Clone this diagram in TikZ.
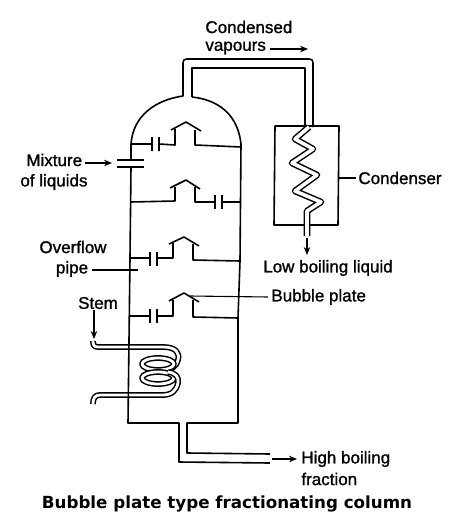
\documentclass[tikz,border=0pt]{standalone}
\usepackage{fontspec}
\setmainfont{Liberation Sans}[RawFeature={embolden=1.2}]
\newfontfamily\capfont{DejaVu Sans}
\usetikzlibrary{arrows,arrows.meta,positioning}

\begin{document}
\begin{tikzpicture}[x=1pt, y=-1pt, thick]
    % Stili
    \tikzstyle{wall}=[line width=1.6pt, line join=round]
    \tikzstyle{pipe}=[line width=1.5pt, double distance=2.8pt, line join=round]
    \tikzstyle{arrow}=[-{Stealth[length=8pt,width=6.5pt]}, line width=1.1pt]
    \tikzstyle{leader}=[line width=1.1pt]
    \tikzstyle{label}=[font=\fontsize{17}{19}\selectfont, inner sep=0pt, align=center]
    \useasboundingbox (0,0) rectangle (456,532);

    % Serpentina
    \draw [pipe] (93,341) .. controls (93,345) and (94,347) .. (98,347) -- (163,347) .. controls (176,347) and (180,353) .. (178,360) .. controls (176,367) and (172,369) .. (165,370);
    \draw [pipe] (158,364) ellipse (16 and 6);
    \draw [pipe] (158,378) ellipse (16 and 6);
    \draw [pipe] (168,372) .. controls (176,373) and (179,377) .. (178,383) .. controls (176,391) and (172,395) .. (162,395) -- (100,395) .. controls (95,395) and (93,398) .. (93,404);

    % Colonna
    \draw [wall] (131,160) -- (131,144) .. controls (133,116) and (155,100) .. (183,96) -- (183,63) .. controls (183,60) and (184,59) .. (187,59) -- (309,59) .. controls (312,59) and (313,60) .. (313,63) -- (313,127);
    \draw [wall] (192,97) -- (192,68) -- (305,68) -- (305,127);
    \draw [wall] (192,97) .. controls (220,100) and (238,116) .. (241,144) -- (240,261) -- (238,318) -- (238,423) -- (187,423) -- (187,453) -- (270,454);
    \draw [wall] (131,167) -- (130,258) -- (128,423) -- (179,423) -- (179,462) -- (270,463);
    \draw [wall] (117,160) -- (144,160);
    \draw [wall] (117,167) -- (144,167);

    % Piatti
    \draw [wall] (131,144) -- (152,144) (152,137) -- (152,151) (159,137) -- (159,151) (159,144) -- (175,145) -- (175,129);
    \draw [wall] (171,130) -- (186,122) -- (201,131) (195,130) -- (195,145) -- (241,147);
    \draw [wall] (131,202) -- (175,201) -- (175,187) (170,188) -- (186,180) -- (200,189) (195,187) -- (195,202) -- (215,202);
    \draw [wall] (215,195) -- (215,209) (222,195) -- (222,209) (222,202) -- (240,202);
    \draw [wall] (130,258) -- (150,258) (150,252) -- (150,266) (157,252) -- (157,266) (157,258) -- (173,258) -- (173,243);
    \draw [wall] (169,244) -- (184,237) -- (199,246) (193,244) -- (193,260) -- (240,261);
    \draw [wall] (129,316) -- (150,316) (150,309) -- (150,323) (157,309) -- (157,323) (157,316) -- (173,316) -- (173,300);
    \draw [wall] (169,301) -- (184,293) -- (199,302) (193,300) -- (193,317) -- (238,318);

    % Condensatore
    \draw [wall] (275,126) -- (339,126) -- (338,225) -- (274,225) -- cycle;
    \draw [pipe, double distance=3.6pt] (309,127) -- (295,139) -- (313,149) -- (292,163) -- (317,175) -- (295,191) -- (321,202) -- (307,211) -- (307,236);

    % Nodi
    \node (condensed) [label, anchor=west] at (205,27) {Condensed};
    \node (vapours) [label, anchor=west] at (205,48) {vapours};
    \coordinate (vapoursend) at (308,49);
    \node (mixture) [label, anchor=west] at (26,160) {Mixture};
    \coordinate (mixtureend) at (112,163);
    \node (liquids) [label, anchor=west] at (20,182) {of liquids};
    \node (overflow) [label] at (73,247) {Overflow};
    \node (overpipe) [label] at (72,269) {pipe};
    \coordinate (overflowend) at (138,270);
    \node (stem) [label] at (98,303) {Stem};
    \coordinate (stemend) at (94,339);
    \node (condenser) [label, anchor=west] at (358,178) {Condenser};
    \coordinate (condenserstart) at (339,178);
    \node (lowliquid) [label] at (328,268) {Low boiling liquid};
    \coordinate (outletstart) at (307,238);
    \coordinate (outletend) at (307,255);
    \node (bubble) [label, anchor=west] at (271,297) {Bubble plate};
    \coordinate (bubblestart) at (190,296);
    \node (high) [label, anchor=west] at (301,459) {High boiling};
    \node (fraction) [label, anchor=west] at (301,479) {fraction};
    \coordinate (highstart) at (272,459);
    \node (title) [inner sep=0pt, font=\capfont\bfseries\fontsize{16.7}{19}\selectfont] at (227,504) {Bubble plate type fractionating column};

    % Collegamenti
    \draw [arrow] (vapours.east) ++(4,1) -- (vapoursend);
    \draw [arrow] (mixture.east) ++(2,3) -- (mixtureend);
    \draw [leader] (overpipe.east) ++(4,1) -- (overflowend);
    \draw [arrow] (stem.south) ++(-4,1) -- (stemend);
    \draw [leader] (condenserstart) -- ([xshift=-2pt]condenser.west);
    \draw [arrow] (outletstart) -- (outletend);
    \draw [leader] (bubblestart) -- ([xshift=-3pt]bubble.west);
    \draw [arrow] (highstart) -- ([xshift=-4pt]high.west);
\end{tikzpicture}
\end{document}
